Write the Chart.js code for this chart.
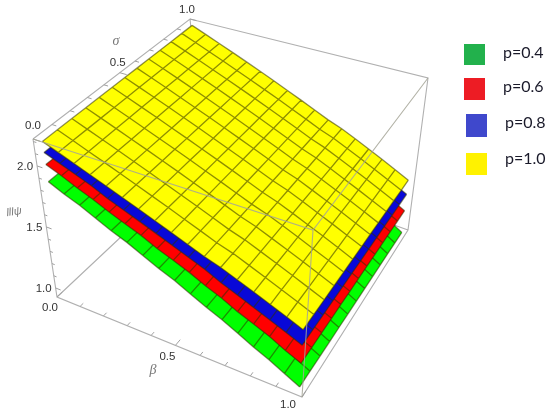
<!DOCTYPE html>
<html>
<head>
<meta charset="utf-8">
<style>
  html, body { margin: 0; padding: 0; background: #fff; }
  #wrap { width: 550px; height: 416px; }
</style>
<script src="https://cdn.jsdelivr.net/npm/chart.js@4"></script>
</head>
<body>
<div id="wrap"><canvas id="surface_chart"></canvas></div>
<script>
// values, psi against beta
const betaGrid = [0, 0.0625, 0.125, 0.1875, 0.25, 0.3125, 0.375, 0.4375, 0.5, 0.5625, 0.625, 0.6875, 0.75, 0.8125, 0.875, 0.9375, 1];
const sigmaGrid = [0, 0.0833, 0.1667, 0.25, 0.3333, 0.4167, 0.5, 0.5833, 0.6667, 0.75, 0.8333, 0.9167, 1];
const psiP04 = [1.86, 1.80, 1.75, 1.69, 1.63, 1.58, 1.52, 1.46, 1.41, 1.35, 1.29, 1.24, 1.18, 1.12, 1.07, 1.01, 0.955];
const psiP06 = [2.00, 1.95, 1.89, 1.84, 1.78, 1.73, 1.68, 1.62, 1.57, 1.52, 1.46, 1.41, 1.35, 1.30, 1.25, 1.19, 1.14];
const psiP08 = [2.10, 2.05, 2.00, 1.95, 1.89, 1.84, 1.79, 1.74, 1.69, 1.64, 1.59, 1.53, 1.48, 1.43, 1.38, 1.33, 1.28];
const psiP10 = [2.19, 2.14, 2.09, 2.04, 1.99, 1.94, 1.89, 1.84, 1.79, 1.74, 1.69, 1.65, 1.60, 1.55, 1.50, 1.45, 1.40];
// how much psi falls along sigma at beta=1, one value per sigmaGrid entry
const sigmaDrop = [0, 0.003, 0.007, 0.01, 0.013, 0.017, 0.02, 0.023, 0.027, 0.03, 0.033, 0.037, 0.04];

const tickValues = [0, 0.1, 0.2, 0.3, 0.4, 0.5, 0.6, 0.7, 0.8, 0.9, 1];
const tickLabels = ["0.0", "0.5", "1.0"];
const psiTickValues = [1, 1.1, 1.2, 1.3, 1.4, 1.5, 1.6, 1.7, 1.8, 1.9, 2, 2.1, 2.2];
const psiTickLabels = ["1.0", "1.5", "2.0"];

const legendLabels = ["p=0.4", "p=0.6", "p=0.8", "p=1.0"];
const legendColors = ["#22b14c", "#ed1c24", "#3f48cc", "#fff200"];
const surfaceColors = ["#00ff00", "#ff0000", "#0808d8", "#ffff00"];

// box corners on the page, [beta=0 sigma=0, beta=1 sigma=0, beta=1 sigma=1, beta=0 sigma=1]
const boxTop = [[33, 139], [313, 230], [428, 78], [190, 19]];
const boxBottom = [[57, 297], [302, 397], [408, 230], [205, 158]];
const psiMin = 0.926, psiMax = 2.221;
const pad = 0.02;

// square -> quad perspective map
function squareToQuad(q) {
  const dx1 = q[1][0] - q[2][0], dx2 = q[3][0] - q[2][0], sx = q[0][0] - q[1][0] + q[2][0] - q[3][0];
  const dy1 = q[1][1] - q[2][1], dy2 = q[3][1] - q[2][1], sy = q[0][1] - q[1][1] + q[2][1] - q[3][1];
  const d = dx1 * dy2 - dx2 * dy1;
  const g = (sx * dy2 - dx2 * sy) / d, h = (dx1 * sy - sx * dy1) / d;
  const a = q[1][0] - q[0][0] + g * q[1][0], b = q[3][0] - q[0][0] + h * q[3][0];
  const e = q[1][1] - q[0][1] + g * q[1][1], f = q[3][1] - q[0][1] + h * q[3][1];
  return (u, v) => {
    const w = g * u + h * v + 1;
    return [(a * u + b * v + q[0][0]) / w, (e * u + f * v + q[0][1]) / w];
  };
}
const topMap = squareToQuad(boxTop), bottomMap = squareToQuad(boxBottom);

// box fractions -> page
function boxPoint(u, v, t) {
  const p = topMap(u, v), q = bottomMap(u, v);
  return { x: q[0] + (p[0] - q[0]) * t, y: q[1] + (p[1] - q[1]) * t };
}
// data values -> page, the plot range has 2% of padding in beta and sigma
function project(beta, sigma, psi) {
  const u = pad + (1 - 2 * pad) * beta, v = pad + (1 - 2 * pad) * sigma;
  return boxPoint(u, v, (psi - psiMin) / (psiMax - psiMin));
}
const gap = { x: NaN, y: NaN };

function lineDataset(data, color, width) {
  return { data, showLine: true, borderColor: color, borderWidth: width, pointRadius: 0, fill: false, spanGaps: false, tension: 0 };
}

let datasets = [];

// back of the box, under the surfaces
const backEdges = [].concat(
  [boxPoint(0, 0, 1), boxPoint(0, 1, 1), boxPoint(1, 1, 1), boxPoint(1, 1, 0), boxPoint(1, 0, 0), boxPoint(0, 0, 0), boxPoint(0, 0, 1), gap],
  [boxPoint(0, 0, 0), boxPoint(0, 1, 0), boxPoint(1, 1, 0), gap],
  [boxPoint(0, 1, 0), boxPoint(0, 1, 1)]
);
datasets.push(lineDataset(backEdges, "#b0b0b0", 1.1));

// ticks on the three visible axes
let ticks = [];
tickValues.forEach(v => {
  const len = (v === 0 || v === 0.5 || v === 1) ? 0.03 : 0.018;
  ticks.push(boxPoint(v, 0, 0), boxPoint(v, len, 0), gap);
  ticks.push(boxPoint(0, v, 1), boxPoint(len, v, 1), gap);
});
psiTickValues.forEach(p => {
  const t = (p - psiMin) / (psiMax - psiMin);
  const len = (p === 1 || p === 1.5 || p === 2) ? 0.022 : 0.012;
  ticks.push(boxPoint(0, 0, t), boxPoint(len, 0, t), gap);
});
datasets.push(lineDataset(ticks, "#a0a0a0", 1));

// surfaces, lowest first
[psiP04, psiP06, psiP08, psiP10].forEach((psi, i) => {
  const last = sigmaGrid.length - 1;
  const outline = [];
  betaGrid.forEach((b, k) => outline.push(project(b, 0, psi[k])));
  for (let k = betaGrid.length - 1; k >= 0; k--) outline.push(project(betaGrid[k], 1, psi[k] - sigmaDrop[last] * betaGrid[k]));
  datasets.push({ label: legendLabels[i], data: outline, showLine: true, borderWidth: 0, pointRadius: 0, backgroundColor: surfaceColors[i], fill: "shape", tension: 0 });

  const mesh = [];
  sigmaGrid.forEach((s, j) => {
    betaGrid.forEach((b, k) => mesh.push(project(b, s, psi[k] - sigmaDrop[j] * b)));
    mesh.push(gap);
  });
  betaGrid.forEach((b, k) => {
    sigmaGrid.forEach((s, j) => mesh.push(project(b, s, psi[k] - sigmaDrop[j] * b)));
    mesh.push(gap);
  });
  datasets.push(lineDataset(mesh, "rgba(50,50,0,0.55)", 1.3));
});

// front edges of the box are seen over the yellow surface
const frontEdges = [boxPoint(0, 0, 1), boxPoint(1, 0, 1), boxPoint(1, 1, 1), gap, boxPoint(1, 0, 1), boxPoint(1, 0, 0)];
datasets.push(lineDataset(frontEdges, "rgba(165,165,150,0.85)", 1.1));

// first dataset goes to the back
datasets.forEach((d, i) => { d.order = datasets.length - i; });

const textPlugin = {
  id: "boxText",
  afterDraw(chart) {
    const ctx = chart.ctx, sx = chart.scales.x, sy = chart.scales.y;
    const put = (txt, x, y) => ctx.fillText(txt, sx.getPixelForValue(x), sy.getPixelForValue(y));
    ctx.save();
    ctx.textAlign = "center";
    ctx.textBaseline = "middle";
    ctx.fillStyle = "#333";
    ctx.font = '11.5px "Liberation Sans"';
    const betaOff = [[-7, 11], [-8, 11], [-14, 8]], sigmaOff = [[0, -13], [-2, -10], [-3, -9]];
    tickLabels.forEach((txt, i) => {
      const v = i / 2;
      let p = boxPoint(v, 0, 0);
      put(txt, p.x + betaOff[i][0], p.y + betaOff[i][1]);
      p = boxPoint(0, v, 1);
      put(txt, p.x + sigmaOff[i][0], p.y + sigmaOff[i][1]);
    });
    psiTickLabels.forEach((txt, i) => {
      const t = ([1, 1.5, 2][i] - psiMin) / (psiMax - psiMin);
      const p = boxPoint(0, 0, t);
      put(txt, p.x - 12, p.y + 1);
    });
    ctx.fillStyle = "#777";
    ctx.font = 'italic 14px "Liberation Serif"';
    put("σ", 116, 41);
    put("β", 153, 370);
    ctx.save();
    ctx.translate(sx.getPixelForValue(14), sy.getPixelForValue(212));
    ctx.rotate(-0.15);
    ctx.font = 'italic 11px "Liberation Sans"';
    ctx.fillText("lllψ", 0, 0);
    ctx.restore();

    // legend of the figure
    ctx.textAlign = "left";
    ctx.font = '16px Lato';
    const boxLeft = [464, 464, 466, 466], boxTopY = [44, 78, 114, 153], boxH = [21, 22, 23, 22], textY = [53, 87, 123, 159];
    legendLabels.forEach((txt, i) => {
      ctx.fillStyle = legendColors[i];
      ctx.fillRect(boxLeft[i], boxTopY[i], 21, boxH[i]);
      ctx.fillStyle = "#1a1a2a";
      ctx.fillText(txt, boxLeft[i] + 39, textY[i]);
    });
    ctx.restore();
  }
};

new Chart(document.getElementById("surface_chart"), {
  type: "scatter",
  data: { datasets },
  options: {
    responsive: true,
    maintainAspectRatio: false,
    animation: false,
    layout: { padding: 0 },
    scales: {
      x: { type: "linear", min: 0, max: 550, display: false },
      y: { type: "linear", min: 0, max: 416, reverse: true, display: false }
    },
    plugins: { legend: { display: false }, tooltip: { enabled: false } }
  },
  plugins: [textPlugin]
});
</script>
</body>
</html>
